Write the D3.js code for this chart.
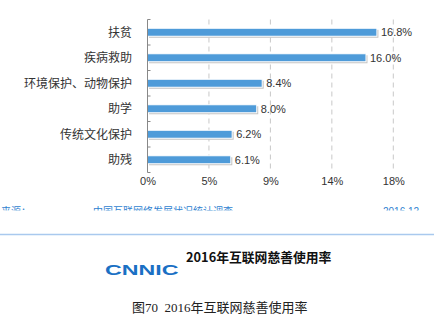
<!DOCTYPE html>
<html><head><meta charset="utf-8">
<script src="https://cdn.jsdelivr.net/npm/d3@7"></script>
<style>html,body{margin:0;padding:0;background:#fff;}svg{display:block;}</style>
</head><body>
<script>
const categories = ["扶贫","疾病救助","环境保护、动物保护","助学","传统文化保护","助残"];
const values = [16.8,16.0,8.4,8.0,6.2,6.1];
const tickValues = [0,4.5,9,13.5,18];
const tickLabels = ["0%","5%","9%","14%","18%"];
const sourceTexts = ["来源：","中国互联网络发展状况统计调查","2016.12"];
const chartTitle = "2016年互联网慈善使用率";
const caption = "图70  2016年互联网慈善使用率";

const W=434,H=322;
const svg=d3.select("body").append("svg").attr("width",W).attr("height",H);
const defs=svg.append("defs");
defs.append("clipPath").attr("id","srcclip").append("rect").attr("x",0).attr("y",0).attr("width",W).attr("height",210.5);

const x=d3.scaleLinear().domain([0,18]).range([147.5,393.3]);
const y=d3.scaleBand().domain(categories).range([19.5,172.5]);

// grid
svg.append("g").selectAll("line").data(tickValues.slice(1)).join("line")
  .attr("x1",d=>x(d)).attr("x2",d=>x(d)).attr("y1",19.5).attr("y2",172.5)
  .attr("stroke","#c8c8c8").attr("stroke-dasharray","5,4");

// bars
const bh=8;
const bars=svg.append("g");
bars.selectAll("rect.sh").data(values).join("rect").attr("class","sh")
  .attr("x",x(0)+1.5).attr("y",(d,i)=>y(categories[i])+y.bandwidth()/2-bh/2+1.5)
  .attr("width",d=>x(d)-x(0)).attr("height",bh).attr("fill","#c4c4c4");
bars.selectAll("rect.b").data(values).join("rect").attr("class","b")
  .attr("x",x(0)).attr("y",(d,i)=>y(categories[i])+y.bandwidth()/2-bh/2)
  .attr("width",d=>x(d)-x(0)).attr("height",bh).attr("fill","#4e9bd9")
  .attr("stroke","#fff").attr("stroke-width",1);

// value labels
svg.append("g").selectAll("text").data(values).join("text")
  .attr("x",d=>x(d)+4).attr("y",(d,i)=>y(categories[i])+y.bandwidth()/2+4)
  .attr("font-family","Liberation Sans, Arial").attr("font-size",11).attr("fill","#333")
  .text(d=>d.toFixed(1)+"%");

// y axis
const ya=svg.append("g").attr("transform",`translate(${x(0)},0)`);
ya.append("line").attr("x1",0).attr("x2",0).attr("y1",19.5).attr("y2",172.5).attr("stroke","#888");
const bounds=[19.5].concat(categories.map(c=>y(c)+y.bandwidth()));
ya.selectAll("line.t").data(bounds).join("line").attr("class","t")
  .attr("x1",0).attr("x2",3).attr("y1",d=>d).attr("y2",d=>d).attr("stroke","#888");
ya.selectAll("text").data(categories).join("text")
  .attr("x",-15.5).attr("y",d=>y(d)+y.bandwidth()/2+4.5)
  .attr("text-anchor","end").attr("font-family","Noto Sans CJK SC").attr("font-size",12).attr("fill","#333")
  .text(d=>d);

// x axis labels
const xa=d3.axisBottom(x).tickValues(tickValues).tickFormat((d,i)=>tickLabels[i]).tickSize(0);
const xg=svg.append("g").attr("transform","translate(0,176)").call(xa);
xg.select(".domain").remove();
xg.selectAll("text").attr("font-family","Liberation Sans, Arial").attr("font-size",11).attr("fill","#333").attr("dy","0.55em");

// source line (clipped, as in the reference)
const sg=svg.append("g").attr("clip-path","url(#srcclip)").attr("font-family","Noto Sans CJK SC").attr("font-size",10).attr("fill","#2f7fd0");
sg.append("text").attr("x",1).attr("y",214.5).text(sourceTexts[0]);
sg.append("text").attr("x",93).attr("y",214.5).text(sourceTexts[1]);
sg.append("text").attr("x",383).attr("y",214.5).attr("font-family","Liberation Sans, Arial").text(sourceTexts[2]);

svg.append("line").attr("x1",0).attr("x2",W).attr("y1",234.5).attr("y2",234.5).attr("stroke","#a9c9ee").attr("stroke-width",1.5);

// title
svg.append("text").attr("x",186).attr("y",262).attr("font-family","Noto Sans CJK SC").attr("font-weight","bold")
  .attr("font-size",12.8).attr("fill","#111").text(chartTitle);

// logo
svg.append("text").attr("transform","translate(105,275) scale(1.55,1)")
  .attr("font-family","Liberation Sans, Arial").attr("font-weight","bold").attr("font-size",15)
  .attr("fill","#1a70c4").text("CNNIC");

// caption
svg.append("text").attr("x",132).attr("y",312).attr("font-family","Liberation Serif, Noto Sans CJK SC").attr("font-size",13)
  .attr("fill","#222").attr("xml:space","preserve").text(caption);
</script>
</body></html>
